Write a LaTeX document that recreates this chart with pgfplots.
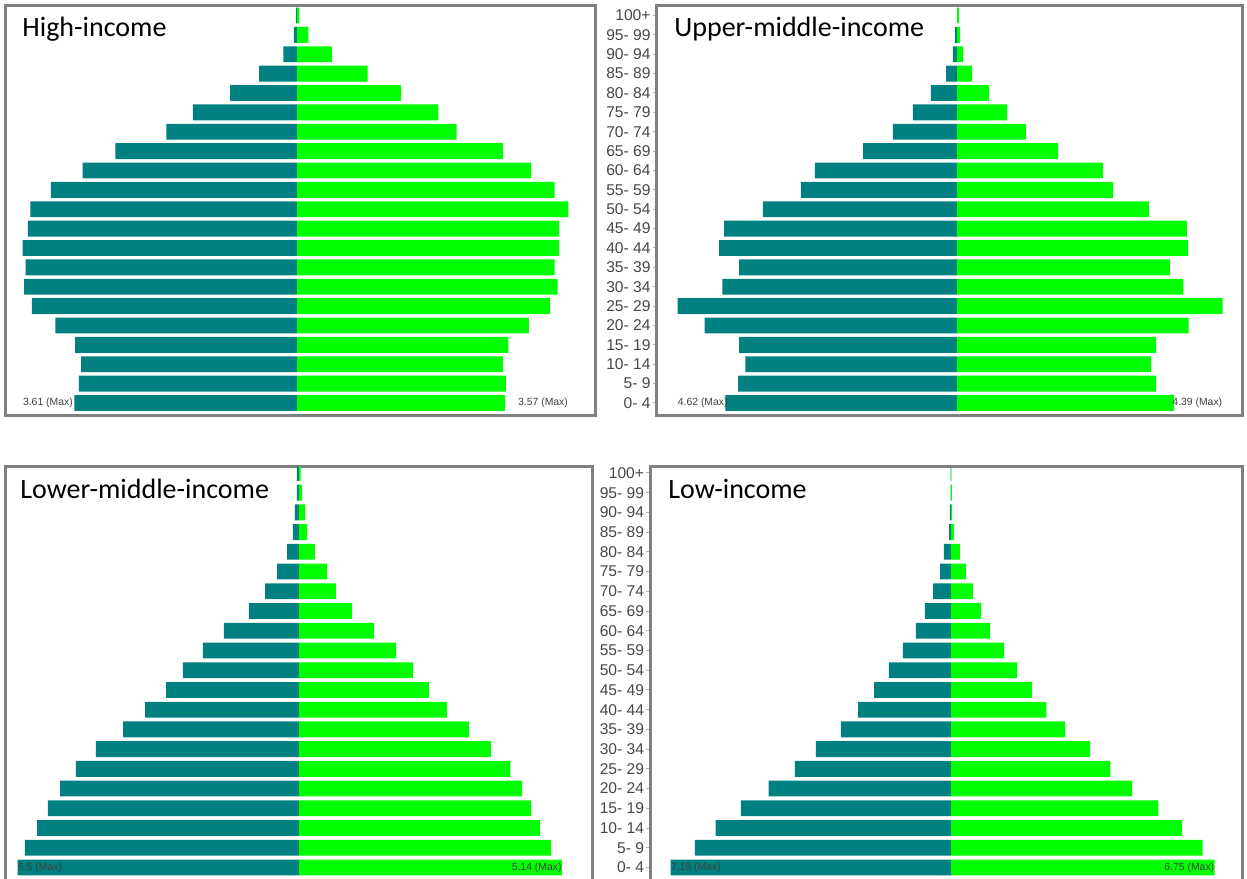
\documentclass[border=0pt]{standalone}
\usepackage{fontspec}
\setmainfont{Liberation Sans}
\newfontfamily\titlefont{Carlito}
\usepackage{pgfplots}
\usepackage{pgfplotstable}
\pgfplotsset{compat=1.18}

% row 0 = 0-4 ... row 20 = 100+ ; m = male %, f = female %
\pgfplotstableread{
row m f
0 2.93 2.74
1 2.87 2.75
2 2.84 2.71
3 2.92 2.78
4 3.18 3.05
5 3.49 3.33
6 3.59 3.43
7 3.57 3.39
8 3.61 3.45
9 3.54 3.45
10 3.51 3.57
11 3.24 3.39
12 2.82 3.08
13 2.39 2.71
14 1.72 2.10
15 1.37 1.86
16 0.88 1.37
17 0.50 0.93
18 0.18 0.46
19 0.04 0.15
20 0.01 0.03
}\highinc

\pgfplotstableread{
row m f
0 3.83 3.59
1 3.62 3.29
2 3.50 3.21
3 3.60 3.29
4 4.17 3.83
5 4.62 4.39
6 3.88 3.74
7 3.60 3.52
8 3.93 3.82
9 3.85 3.80
10 3.21 3.17
11 2.58 2.58
12 2.35 2.41
13 1.55 1.67
14 1.06 1.14
15 0.73 0.83
16 0.43 0.53
17 0.18 0.25
18 0.07 0.10
19 0.03 0.05
20 0.00 0.03
}\uppermid

\pgfplotstableread{
row m f
0 5.50 5.14
1 5.36 4.93
2 5.12 4.71
3 4.91 4.54
4 4.67 4.36
5 4.36 4.13
6 3.97 3.75
7 3.44 3.32
8 3.01 2.89
9 2.60 2.54
10 2.27 2.23
11 1.88 1.90
12 1.47 1.47
13 0.98 1.04
14 0.66 0.72
15 0.43 0.55
16 0.23 0.31
17 0.12 0.16
18 0.08 0.12
19 0.04 0.06
20 0.04 0.03
}\lowermid

\pgfplotstableread{
row m f
0 7.18 6.75
1 6.56 6.44
2 6.03 5.92
3 5.38 5.31
4 4.67 4.64
5 4.00 4.08
6 3.46 3.56
7 2.82 2.92
8 2.38 2.44
9 1.97 2.08
10 1.59 1.69
11 1.23 1.36
12 0.90 1.00
13 0.67 0.77
14 0.46 0.56
15 0.28 0.38
16 0.18 0.23
17 0.05 0.08
18 0.02 0.03
19 0.01 0.02
20 0.01 0.01
}\lowinc

\definecolor{male}{RGB}{0,128,128}
\definecolor{female}{RGB}{0,255,0}

\tikzset{
  maxlab/.style={font=\fontsize{5.2}{5.2}\selectfont, text=black!75, inner sep=0pt},
}

\pgfplotsset{
  pyr/.style={
    xbar, bar shift=0pt, bar width=7.9pt,
    scale only axis,
    axis line style={black!50, line width=1.5pt},
    xtick=\empty, ytick=\empty,
    anchor=south west,
  },
  agelabels/.style={
    ytick={0,...,20},
    yticklabels={0- 4,5- 9,10- 14,15- 19,20- 24,25- 29,30- 34,35- 39,40- 44,45- 49,50- 54,55- 59,60- 64,65- 69,70- 74,75- 79,80- 84,85- 89,90- 94,95- 99,100+},
    ytick pos=left, tick align=outside,
    major tick length=1.8pt,
    y tick style={black!30, line width=0.5pt},
    yticklabel style={font=\fontsize{7.8}{7.8}\selectfont, text=black!72, inner sep=1pt},
  },
  mbar/.style={fill=male, draw=none},
  fbar/.style={fill=female, draw=none},
}

\begin{document}
\begin{tikzpicture}

% High-income
\begin{axis}[pyr, at={(2.75pt,231.25pt)}, width=295pt, height=204.75pt,
  xmin=-3.836, xmax=3.928, ymin=-0.645, ymax=20.49]
\addplot[mbar] table[x expr=-\thisrow{m}, y=row] {\highinc};
\addplot[fbar] table[x=f, y=row] {\highinc};
\node[maxlab, anchor=west] at (axis cs:-3.61,0) {3.61 (Max)};
\node[maxlab, anchor=east] at (axis cs:3.57,0) {3.57 (Max)};
\end{axis}

% Upper-middle-income
\begin{axis}[pyr, agelabels, at={(328.25pt,231.25pt)}, width=292.75pt, height=204.75pt,
  xmin=-4.967, xmax=4.711, ymin=-0.645, ymax=20.49]
\addplot[mbar] table[x expr=-\thisrow{m}, y=row] {\uppermid};
\addplot[fbar] table[x=f, y=row] {\uppermid};
\node[maxlab, anchor=west] at (axis cs:-4.62,0) {4.62 (Max)};
\node[maxlab, anchor=east] at (axis cs:4.39,0) {4.39 (Max)};
\end{axis}

% Lower-middle-income
\begin{axis}[pyr, at={(2.75pt,-2pt)}, width=293.25pt, height=207.5pt,
  xmin=-5.738, xmax=5.728, ymin=-0.735, ymax=20.30]
\addplot[mbar] table[x expr=-\thisrow{m}, y=row] {\lowermid};
\addplot[fbar] table[x=f, y=row] {\lowermid};
\node[maxlab, anchor=west] at (axis cs:-5.5,0) {5.5 (Max)};
\node[maxlab, anchor=east] at (axis cs:5.14,0) {5.14 (Max)};
\end{axis}

% Low-income
\begin{axis}[pyr, agelabels, at={(325pt,-2pt)}, width=296pt, height=207.5pt,
  xmin=-7.708, xmax=7.452, ymin=-0.735, ymax=20.30]
\addplot[mbar] table[x expr=-\thisrow{m}, y=row] {\lowinc};
\addplot[fbar] table[x=f, y=row] {\lowinc};
\node[maxlab, anchor=west] at (axis cs:-7.18,0) {7.18 (Max)};
\node[maxlab, anchor=east] at (axis cs:6.75,0) {6.75 (Max)};
\end{axis}

\begin{scope}[every node/.style={anchor=base west, inner sep=0pt, font=\titlefont\fontsize{14}{14}\selectfont}]
\node at (11pt,420.5pt) {High-income};
\node at (337pt,420.5pt) {Upper-middle-income};
\node at (10pt,189.5pt) {Lower-middle-income};
\node at (334pt,189.5pt) {Low-income};
\end{scope}

\pgfresetboundingbox
\useasboundingbox (0,0) rectangle (623.5pt,439pt);
\end{tikzpicture}
\end{document}
